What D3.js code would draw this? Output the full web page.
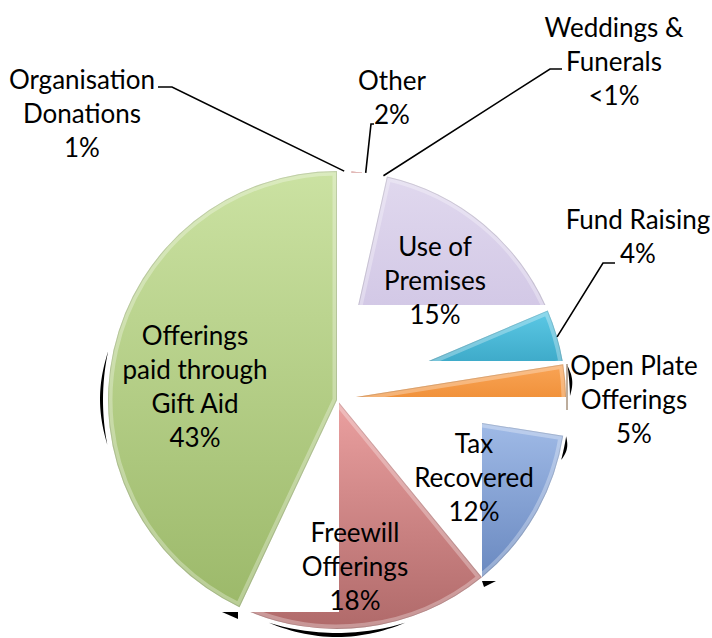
<!DOCTYPE html>
<html><head><meta charset="utf-8">
<script src="https://cdn.jsdelivr.net/npm/d3@7"></script>
<style>html,body{margin:0;padding:0;background:#fff;} svg{display:block;}</style>
</head><body><svg id="chart" width="712" height="638"></svg>
<script>
// ---- data ----
const categories = ["Organisation Donations","Other","Weddings & Funerals","Use of Premises","Fund Raising","Open Plate Offerings","Tax Recovered","Freewill Offerings","Offerings paid through Gift Aid"];
const values = [1.0, 2.0, 0.5, 15.1, 3.9, 5.0, 11.6, 17.9, 43.0];
const percentLabels = ["1%","2%","<1%","15%","4%","5%","12%","18%","43%"];
const labelLines = [["Organisation","Donations"],["Other"],["Weddings &","Funerals"],["Use of","Premises"],["Fund Raising"],["Open Plate","Offerings"],["Tax","Recovered"],["Freewill","Offerings"],["Offerings","paid through","Gift Aid"]];

// ---- styles / layout ----
const colors = {
  "Organisation Donations": ["#e39a98","#c0504d"],
  "Other": ["#d9736f","#c0504d"],
  "Weddings & Funerals": ["#9bb7e0","#4f81bd"],
  "Use of Premises": ["#e0d8ee","#c9bde0"],
  "Fund Raising": ["#5cc9e6","#2894b4"],
  "Open Plate Offerings": ["#f9a456","#e77d1c"],
  "Tax Recovered": ["#a7c1ec","#6a89c0"],
  "Freewill Offerings": ["#eba0a0","#b06a6a"],
  "Offerings paid through Gift Aid": ["#cbe2a2","#9cb96a"]
};
const W = 712, H = 638, cx = 337, cy = 400, R = 229;
// visible regions of each slice (absolute px rects)
const clips = {
  "Organisation Donations": [],
  "Other": [[340,169.5,22,3]],
  "Weddings & Funerals": [],
  "Use of Premises": [[0,0,W,305]],
  "Fund Raising": [[0,0,W,361]],
  "Open Plate Offerings": [[0,0,W,397]],
  "Tax Recovered": [[482,0,W-482,H]],
  "Freewill Offerings": [[339,0,W-339,H],[0,612,W,H-612]],
  "Offerings paid through Gift Aid": [[0,0,W,H]]
};
const labelPos = {
  "Organisation Donations": [82, 89],
  "Other": [392, 90],
  "Weddings & Funerals": [614, 37],
  "Use of Premises": [435, 256],
  "Fund Raising": [638, 229],
  "Open Plate Offerings": [634, 375],
  "Tax Recovered": [474, 453],
  "Freewill Offerings": [355, 542],
  "Offerings paid through Gift Aid": [195, 345]
};
const leaders = {
  "Organisation Donations": [[172,87],[158,87]],
  "Other": [[371,124],[374,124]],
  "Weddings & Funerals": [[550,69],[562,69]],
  "Fund Raising": [[603,263],[615,263]]
};
const lineH = 34;

const data = categories.map((c,i)=>({cat:c, value:values[i], pct:percentLabels[i], lines:labelLines[i]}));

const svg = d3.select("#chart");
const defs = svg.append("defs");

const pie = d3.pie().sort(null).value(d=>d.value).startAngle(0).endAngle(2*Math.PI);
const arcs = pie(data);
const arc = d3.arc().innerRadius(0).outerRadius(R);

// gradients & clips
arcs.forEach((a,i)=>{
  const g = defs.append("linearGradient").attr("id","grad"+i)
    .attr("x1",0).attr("y1",0).attr("x2",0).attr("y2",1);
  g.append("stop").attr("offset","0%").attr("stop-color",colors[a.data.cat][0]);
  g.append("stop").attr("offset","100%").attr("stop-color",colors[a.data.cat][1]);
  const cp = defs.append("clipPath").attr("id","band"+i);
  clips[a.data.cat].forEach(rc=>cp.append("rect").attr("x",rc[0]).attr("y",rc[1]).attr("width",rc[2]).attr("height",rc[3]));
  defs.append("clipPath").attr("id","shape"+i).append("path")
    .attr("transform",`translate(${cx},${cy})`).attr("d",arc(a));
});

// shadow artifacts
function crescent(a0,a1,r0,thick){
  const pts = [];
  const n = 30;
  for(let k=0;k<=n;k++){const t=k/n, a=(a0+(a1-a0)*t)*Math.PI/180, rr=r0+thick*Math.sin(Math.PI*t);
    pts.push([cx+rr*Math.sin(a), cy-rr*Math.cos(a)]);}
  for(let k=n;k>=0;k--){const t=k/n, a=(a0+(a1-a0)*t)*Math.PI/180;
    pts.push([cx+r0*Math.sin(a), cy-r0*Math.cos(a)]);}
  return "M"+pts.map(p=>p.join(",")).join("L")+"Z";
}
const sh = svg.append("g").attr("fill","#000");
sh.append("path").attr("d",crescent(259,282,234,3));
sh.append("path").attr("d",crescent(163,197,233,4));
sh.append("path").attr("d",crescent(81.5,89,233,3));
sh.append("path").attr("d",crescent(99,105,232,3));
sh.append("path").attr("d","M222,612L238,612L238,619Z");
sh.append("path").attr("d","M482,581L496,581L484,587Z");
svg.append("line").attr("x1",567).attr("y1",364).attr("x2",567).attr("y2",410).attr("stroke","#7a5a3a").attr("stroke-width",1);

// slices
const sg = svg.append("g");
arcs.forEach((a,i)=>{
  const band = sg.append("g").attr("clip-path",`url(#band${i})`);
  band.append("path").attr("transform",`translate(${cx},${cy})`).attr("d",arc(a))
    .attr("fill",`url(#grad${i})`);
  const inner = band.append("g").attr("clip-path",`url(#shape${i})`);
  inner.append("path").attr("transform",`translate(${cx},${cy})`).attr("d",arc(a))
    .attr("fill","none").attr("stroke","#fff").attr("stroke-opacity",0.3).attr("stroke-width",9);
  inner.append("path").attr("transform",`translate(${cx},${cy})`).attr("d",arc(a))
    .attr("fill","none").attr("stroke","#000").attr("stroke-opacity",0.12).attr("stroke-width",2);
});

// leader lines
const lg = svg.append("g").attr("fill","none").attr("stroke","#000").attr("stroke-width",1.6);
arcs.forEach(a=>{
  const L = leaders[a.data.cat]; if(!L) return;
  const m = (a.startAngle+a.endAngle)/2;
  const p0 = [cx+R*Math.sin(m), cy-R*Math.cos(m)];
  lg.append("path").attr("d",d3.line()([p0].concat(L)));
});

// labels
const tg = svg.append("g").attr("font-family","Lato, 'Noto Sans', sans-serif").attr("font-size",26)
  .attr("fill","#000").attr("text-anchor","middle");
arcs.forEach(a=>{
  const [x,y] = labelPos[a.data.cat];
  const t = tg.append("text");
  a.data.lines.concat([a.data.pct]).forEach((ln,k)=>{
    t.append("tspan").attr("x",x).attr("y",y+k*lineH).text(ln);
  });
});
</script></body></html>
